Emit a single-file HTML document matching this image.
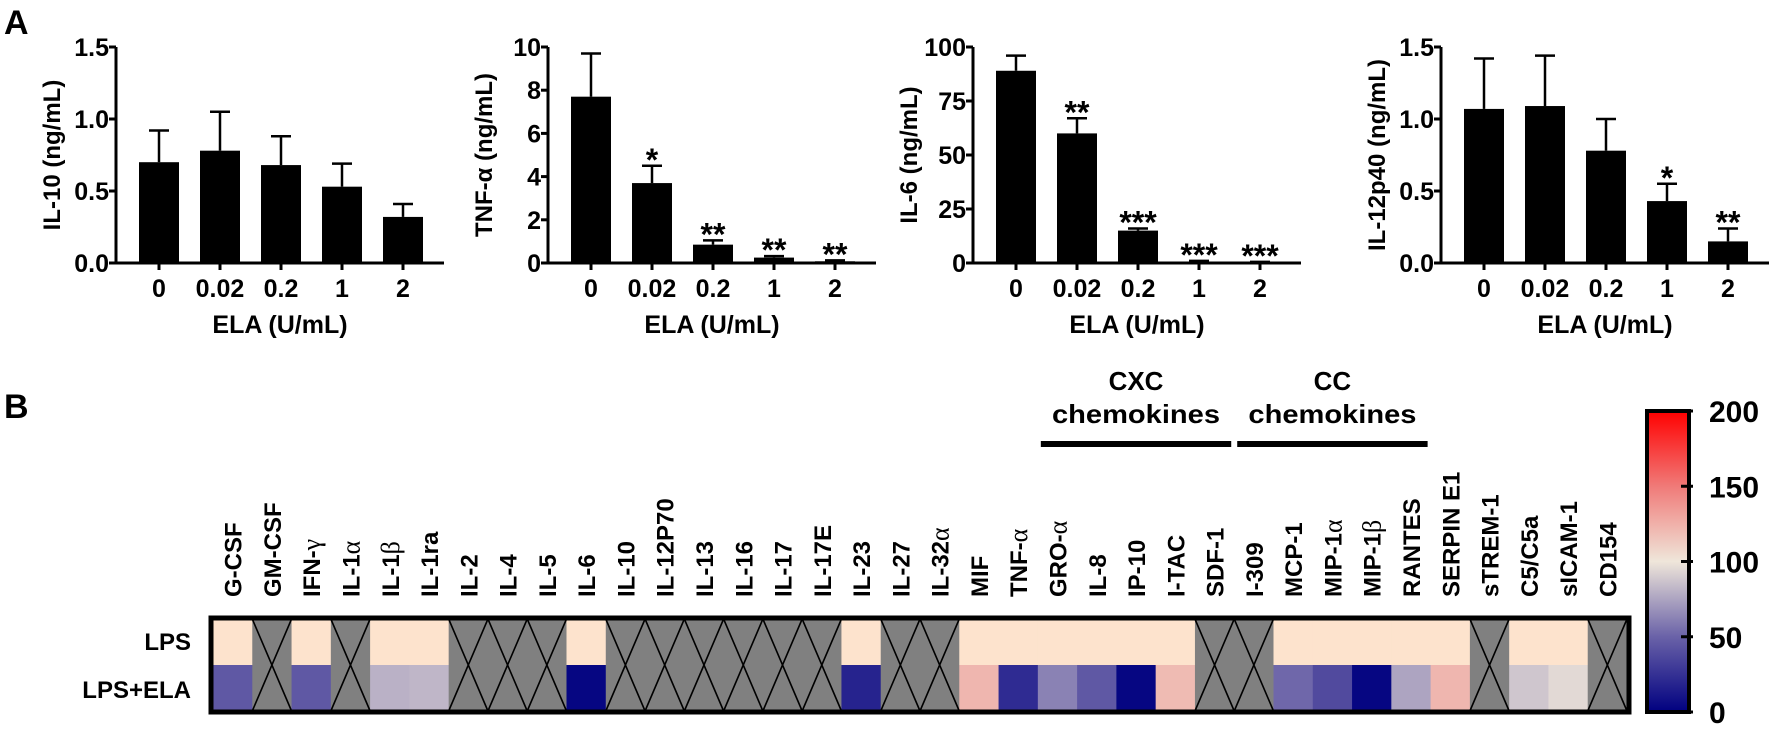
<!DOCTYPE html>
<html><head><meta charset="utf-8"><style>
body{margin:0;background:#fff}
svg text{font-family:"Liberation Sans",sans-serif;font-weight:bold;fill:#000}
.g{font-family:"Liberation Serif",serif;font-weight:normal}
</style></head><body>
<svg id="s" width="1772" height="728" xmlns="http://www.w3.org/2000/svg">
<defs>
<linearGradient id="cb" x1="0" y1="1" x2="0" y2="0">
<stop offset="0" stop-color="#000080"/><stop offset="0.25" stop-color="#6a62a8"/><stop offset="0.5" stop-color="#efe6da"/><stop offset="0.75" stop-color="#f07a78"/><stop offset="1" stop-color="#ff0000"/>
</linearGradient>
</defs>
<text x="4" y="34" font-size="34">A</text>
<text x="4" y="418" font-size="34">B</text>
</svg>
<script>
const doses=["0","0.02","0.2","1","2"];
const il10Vals=[0.70,0.78,0.68,0.53,0.32];
const il10Err=[0.92,1.05,0.88,0.69,0.41];
const tnfVals=[7.7,3.7,0.85,0.25,0.08];
const tnfErr=[9.7,4.5,1.05,0.32,0.12];
const il6Vals=[89,60,15,0.6,0.3];
const il6Err=[96,67,16,1,0.5];
const il12Vals=[1.07,1.09,0.78,0.43,0.15];
const il12Err=[1.42,1.44,1.0,0.55,0.24];
const il10Stars=["","","","",""];
const tnfStars=["","*","**","**","**"];
const il6Stars=["","**","***","***","***"];
const il12Stars=["","","","*","**"];
const il10Ticks=["0.0","0.5","1.0","1.5"];
const tnfTicks=["0","2","4","6","8","10"];
const il6Ticks=["0","25","50","75","100"];
const il12Ticks=["0.0","0.5","1.0","1.5"];
const cytokines=["G-CSF","GM-CSF","IFN-|γ","IL-1|α","IL-1|β","IL-1ra","IL-2","IL-4","IL-5","IL-6","IL-10","IL-12P70","IL-13","IL-16","IL-17","IL-17E","IL-23","IL-27","IL-32|α","MIF","TNF-|α","GRO-|α","IL-8","IP-10","I-TAC","SDF-1","I-309","MCP-1","MIP-1|α","MIP-1|β","RANTES","SERPIN E1","sTREM-1","C5/C5a","sICAM-1","CD154"];
const lpsVals=[110,null,110,null,110,110,null,null,null,110,null,null,null,null,null,null,110,null,null,110,110,110,110,110,110,null,null,110,110,110,110,110,null,110,110,null];
const elaVals=[45,null,45,null,80,82,null,null,null,3,null,null,null,null,null,null,18,null,null,122,22,62,45,3,120,null,null,52,38,3,75,122,null,88,95,null];
const cbTicks=["0","50","100","150","200"];

const S=document.getElementById('s');const NS="http://www.w3.org/2000/svg";
function mk(t,a,p){const e=document.createElementNS(NS,t);for(const k in a)e.setAttribute(k,a[k]);(p||S).appendChild(e);return e;}

function panel(ax,ymax,ticks,vals,errs,stars,ylab,name){
  const g=mk('g',{});
  
  
  const y0=263,yt=47,xEnd=ax+328;
  const Y=v=>y0-(v/ymax)*(y0-yt);
  const X=i=>ax+43+61*i;
  mk('line',{x1:ax,y1:yt,x2:ax,y2:y0+1.5,stroke:'#000','stroke-width':3},g);
  mk('line',{x1:ax-1.5,y1:y0,x2:xEnd,y2:y0,stroke:'#000','stroke-width':3},g);
  ticks.forEach((t,i)=>{const v=ymax*i/(ticks.length-1);
    mk('line',{x1:ax-7,y1:Y(v),x2:ax,y2:Y(v),stroke:'#000','stroke-width':3},g);
    const tx=mk('text',{x:ax-7,y:Y(v)+9,'font-size':25,'text-anchor':'end'},g);tx.textContent=t;});
  vals.forEach((v,i)=>{const x=X(i),w=40;
    const b=mk('rect',{x:x-w/2,y:Y(v),width:w,height:y0-Y(v),fill:'#000'},g);
    
    
    mk('line',{x1:x,y1:Y(v),x2:x,y2:Y(errs[i]),stroke:'#000','stroke-width':2.5},g);
    mk('line',{x1:x-10,y1:Y(errs[i]),x2:x+10,y2:Y(errs[i]),stroke:'#000','stroke-width':2.5},g);
    mk('line',{x1:x,y1:y0,x2:x,y2:y0+7,stroke:'#000','stroke-width':3},g);
    const xl=mk('text',{x:x,y:297,'font-size':25,'text-anchor':'middle'},g);xl.textContent=doses[i];
    if(stars[i]){const st=mk('text',{x:x,y:Y(errs[i])+5,'font-size':32,'text-anchor':'middle'},g);st.textContent=stars[i];}
  });
  const xt=mk('text',{x:(ax+xEnd)/2,y:333,'font-size':25,'text-anchor':'middle'},g);xt.textContent="ELA (U/mL)";
  const yl=mk('text',{x:0,y:0,'font-size':24,'text-anchor':'middle',transform:`translate(${ax-56},${(y0+yt)/2}) rotate(-90)`},g);yl.textContent=ylab;
}
panel(116,1.5,il10Ticks,il10Vals,il10Err,il10Stars,"IL-10 (ng/mL)","il10-chart");
panel(548,10,tnfTicks,tnfVals,tnfErr,tnfStars,"TNF-α (ng/mL)","tnf-chart");
panel(973,100,il6Ticks,il6Vals,il6Err,il6Stars,"IL-6 (ng/mL)","il6-chart");
panel(1441,1.5,il12Ticks,il12Vals,il12Err,il12Stars,"IL-12p40 (ng/mL)","il12-chart");

// heatmap
const hx0=213,hx1=1627,hy0=619,rh=46,cw=(hx1-hx0)/cytokines.length;
function col(v){
  const st=[[0,[0,0,128]],[50,[106,98,168]],[100,[239,230,218]],[150,[240,122,120]],[200,[255,0,0]]];
  for(let i=0;i<4;i++){const a=st[i],b=st[i+1];if(v<=b[0]){const t=(v-a[0])/(b[0]-a[0]);
    return 'rgb('+a[1].map((c,j)=>Math.round(c+(b[1][j]-c)*t)).join(',')+')';}}
  return 'rgb(255,0,0)';
}
const hm=mk('g',{});


[lpsVals,elaVals].forEach((row,r)=>{
  row.forEach((v,i)=>{const x=hx0+i*cw,y=hy0+r*rh;
    if(v===null){
      mk('rect',{x:x,y:y,width:cw+0.5,height:rh,fill:'#808080'},hm);
    } else {
      const c=mk('rect',{x:x,y:y,width:cw+0.5,height:rh,fill:v===110?'#fde3cd':col(v)},hm);
      
      
    }
  });
});
lpsVals.forEach((v,i)=>{if(v===null&&elaVals[i]===null){const x=hx0+i*cw;
  mk('path',{d:`M${x} ${hy0}L${x+cw} ${hy0+2*rh}M${x+cw} ${hy0}L${x} ${hy0+2*rh}`,stroke:'#000','stroke-width':1.6,fill:'none'},hm);}});
mk('rect',{x:hx0-2,y:hy0-1,width:hx1-hx0+4,height:2*rh+2,fill:'none',stroke:'#000','stroke-width':5},hm);
cytokines.forEach((c,i)=>{const x=hx0+(i+0.5)*cw+9;
  const t=mk('text',{x:0,y:0,'font-size':24,transform:`translate(${x},597) rotate(-90)`},hm);
  const p=c.split('|');
  const a=mk('tspan',{},t);a.textContent=p[0];
  if(p[1]){const b=mk('tspan',{class:'g','font-size':26},t);b.textContent=p[1];}
});
[["LPS",650],["LPS+ELA",698]].forEach(([l,y])=>{const t=mk('text',{x:191,y:y,'font-size':24,'text-anchor':'end'},hm);t.textContent=l;});
function grp(a,b,name){const xa=hx0+a*cw+3,xb=hx0+b*cw-3;
  mk('rect',{x:xa,y:441,width:xb-xa,height:6,fill:'#000'});
  let t=mk('text',{x:(xa+xb)/2,y:390,'font-size':26,'text-anchor':'middle'});t.textContent=name;
  t=mk('text',{x:(xa+xb)/2,y:423,'font-size':26,'text-anchor':'middle','textLength':168,'lengthAdjust':'spacingAndGlyphs'});t.textContent="chemokines";}
grp(21,26,"CXC");grp(26,31,"CC");
// colorbar
const cbx=1647,cby0=712,cby1=411;
const cbr=mk('rect',{x:cbx,y:cby1,width:42,height:cby0-cby1,fill:'url(#cb)',stroke:'#000','stroke-width':4});


cbTicks.forEach((t,i)=>{const y=cby0-(cby0-cby1)*i/(cbTicks.length-1);
  mk('line',{x1:cbx+34,y1:y,x2:cbx+46,y2:y,stroke:'#000','stroke-width':3});
  const tx=mk('text',{x:cbx+62,y:y+11,'font-size':30,'font-weight':'normal'});tx.textContent=t;});
</script>
</body></html>
